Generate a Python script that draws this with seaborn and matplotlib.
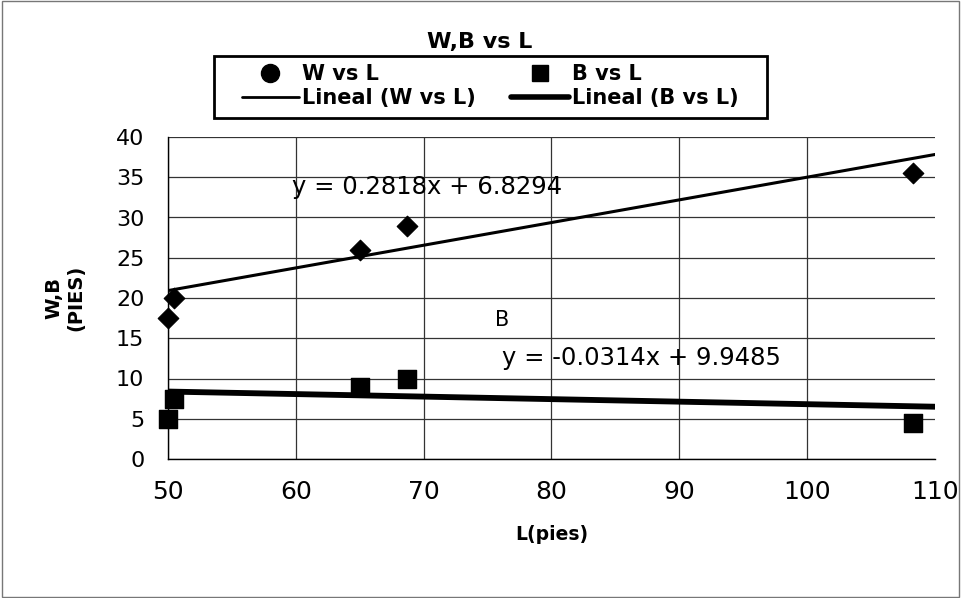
import numpy as np
import pandas as pd
import matplotlib
matplotlib.use("Agg")
import matplotlib.pyplot as plt
import seaborn as sns
from matplotlib.lines import Line2D

# data
L_vals = [50.0, 50.5, 65.0, 68.7, 108.3]
W_vals = [17.5, 20.0, 26.0, 29.0, 35.5]
B_vals = [5.0, 7.5, 9.0, 10.0, 4.5]

# trendline coefficients shown on the chart
w_slope, w_icpt = 0.2818, 6.8294
b_slope, b_icpt = -0.0314, 9.9485

x_ticks = [50, 60, 70, 80, 90, 100, 110]
y_ticks = [0, 5, 10, 15, 20, 25, 30, 35, 40]

df = pd.DataFrame({"L": L_vals, "W": W_vals, "B": B_vals})

sns.set_theme(style="white")
plt.rcParams['font.family'] = ['DejaVu Sans']
plt.rcParams.update({"text.color": "black", "axes.labelcolor": "black",
                     "xtick.color": "black", "ytick.color": "black"})

fig = plt.figure(figsize=(9.61, 5.98), dpi=100)
ax = fig.add_axes([168/961, 1-459/598, (935-168)/961, (459-137)/598])

# trend lines over the full x range
xs = np.array([x_ticks[0], x_ticks[-1]])
sns.lineplot(x=xs, y=w_slope*xs + w_icpt, ax=ax, color="black", linewidth=2.2, zorder=3)
sns.lineplot(x=xs, y=b_slope*xs + b_icpt, ax=ax, color="black", linewidth=4.2, zorder=3)

# points
sns.scatterplot(data=df, x="L", y="W", ax=ax, marker="D", s=110, color="black",
                edgecolor="black", zorder=4, clip_on=False)
sns.scatterplot(data=df, x="L", y="B", ax=ax, marker="s", s=165, color="black",
                edgecolor="black", zorder=4, clip_on=False)

ax.set_xlim(x_ticks[0], x_ticks[-1])
ax.set_ylim(y_ticks[0], y_ticks[-1])
ax.set_xticks(x_ticks)
ax.set_yticks(y_ticks)
ax.tick_params(axis="x", labelsize=18, length=0, pad=15, colors="black")
ax.tick_params(axis="y", labelsize=16, length=0, pad=17, colors="black")
ax.grid(True, color="#333333", linewidth=0.9)
ax.xaxis.get_gridlines()[-1].set_visible(False)
for s in ["top", "right"]:
    ax.spines[s].set_visible(False)
for s in ["left", "bottom"]:
    ax.spines[s].set_color("black")
    ax.spines[s].set_linewidth(1)

ax.set_xlabel("L(pies)", fontsize=13.5, fontweight="bold", color="black")
ax.xaxis.set_label_coords(0.5, -0.205)
ax.set_ylabel("W,B\n(PIES)", fontsize=14, fontweight="bold", color="black")
ax.yaxis.set_label_coords(-0.108, 0.5)

ax.text(59.7, 33.8, "y = 0.2818x + 6.8294", fontsize=17.5, va="center", ha="left", color="black")
ax.text(75.6, 17.3, "B", fontsize=15, va="center", ha="left", color="black")
ax.text(76.1, 12.5, "y = -0.0314x + 9.9485", fontsize=17.5, va="center", ha="left", color="black")

fig.text(480/961, 1-42/598, "W,B vs L", fontsize=16, fontweight="bold", ha="center",
         va="center", color="black")

handles = [
    Line2D([], [], marker="o", linestyle="none", color="black", markersize=13),
    Line2D([], [], color="black", linewidth=2),
    Line2D([], [], marker="s", linestyle="none", color="black", markersize=11),
    Line2D([], [], color="black", linewidth=4),
]
labels = ["W vs L", "Lineal (W vs L)", "B vs L", "Lineal (B vs L)"]
leg = fig.legend(handles, labels, ncol=2, loc="center", bbox_to_anchor=(490/961, 1-86/598),
                 frameon=False, fontsize=15, handlelength=2.75, columnspacing=1.7,
                 borderpad=0.2, labelspacing=0.2, handletextpad=0.15)
for t in leg.get_texts():
    t.set_fontweight("bold")
    t.set_color("black")

# legend box drawn by hand so padding can differ per side
fig.patches.append(plt.Rectangle((214/961, 1-118/598), (767-214)/961, (118-56)/598,
                                 transform=fig.transFigure, fill=False,
                                 edgecolor="black", linewidth=2))

# outer border of the chart area
fig.patches.append(plt.Rectangle((0.002, 0.002), 0.996, 0.996, transform=fig.transFigure,
                                 fill=False, edgecolor="#777777", linewidth=1))

fig.savefig("out.png", dpi=100)
